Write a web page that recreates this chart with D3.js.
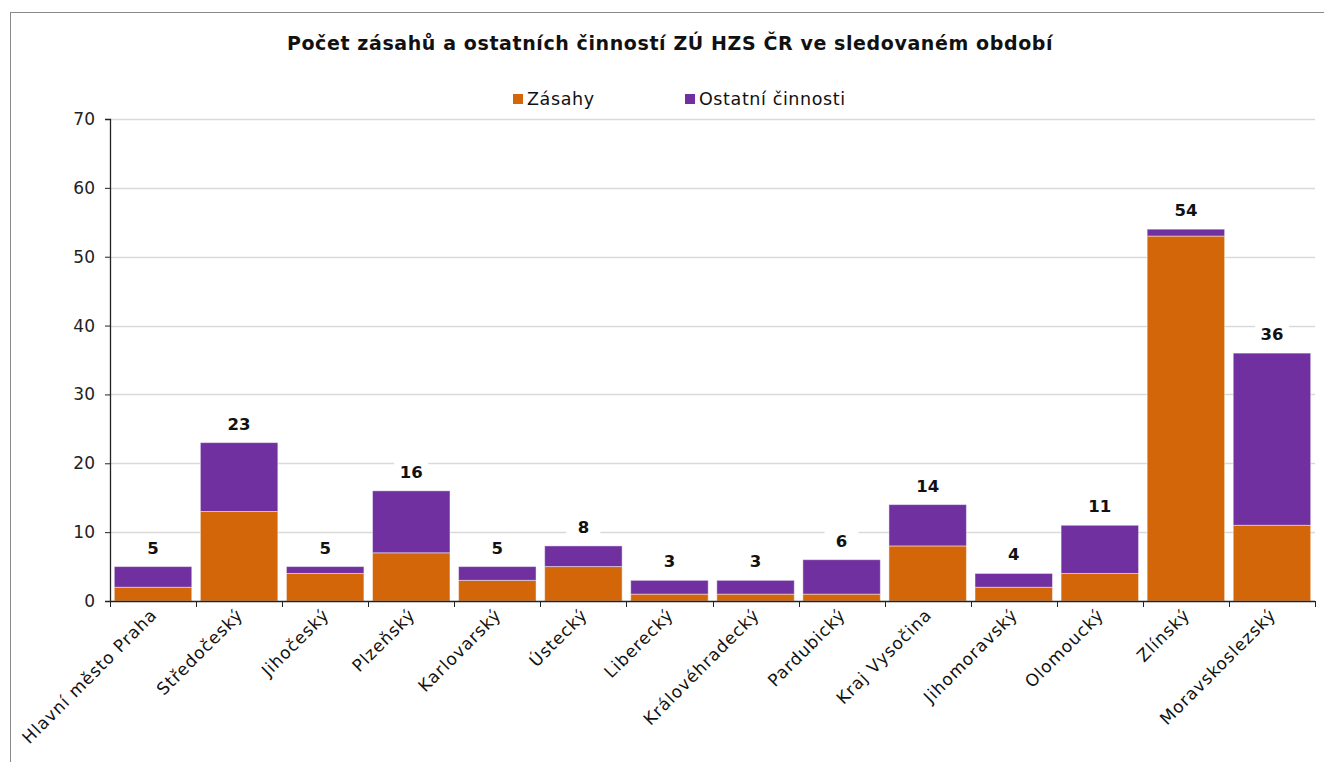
<!DOCTYPE html>
<html><head><meta charset="utf-8">
<script src="https://cdn.jsdelivr.net/npm/d3@7"></script>
<style>
body{margin:0;background:#fff;}
svg text{font-family:"DejaVu Sans",sans-serif;}
</style></head>
<body><svg id="c" width="1324" height="762"></svg>
<script>
const categories = ["Hlavní město Praha","Středočeský","Jihočeský","Plzeňský","Karlovarský","Ústecký","Liberecký","Královéhradecký","Pardubický","Kraj Vysočina","Jihomoravský","Olomoucký","Zlínský","Moravskoslezský"];
const zasahy =   [2,13,4,7,3,5,1,1,1,8,2,4,53,11];
const ostatni =  [3,10,1,9,2,3,2,2,5,6,2,7,1,25];
const seriesNames = ["Zásahy","Ostatní činnosti"];
const yTicks = [0,10,20,30,40,50,60,70];
const colors = ["#D4660A","#7030A0"];

const svg = d3.select("#c");
// outer border
svg.append("rect").attr("x",10.5).attr("y",12.5).attr("width",1340).attr("height",800)
  .attr("fill","none").attr("stroke","#888").attr("stroke-width",1);

const m = {l:110, r:1315, t:119, b:601};
const x = d3.scaleBand().domain(categories).range([m.l,m.r]).paddingInner(0.1).paddingOuter(0.05);
const y = d3.scaleLinear().domain([0,70]).range([m.b,m.t]);

// gridlines
svg.append("g").selectAll("line").data(yTicks.filter(d=>d>0)).join("line")
  .attr("x1",m.l).attr("x2",m.r).attr("y1",d=>Math.round(y(d))+0.5).attr("y2",d=>Math.round(y(d))+0.5)
  .attr("stroke","#D9D9D9").attr("stroke-width",1.3);

const data = categories.map((c,i)=>({c, a:zasahy[i], b:ostatni[i], t:zasahy[i]+ostatni[i]}));
const stack = d3.stack().keys(["a","b"])(data);

svg.append("g").selectAll("g").data(stack).join("g").attr("fill",(d,i)=>colors[i])
  .selectAll("rect").data(d=>d).join("rect")
  .attr("x",d=>x(d.data.c)).attr("width",x.bandwidth())
  .attr("y",d=>y(d[1])).attr("height",d=>y(d[0])-y(d[1]))
  .attr("stroke","rgba(255,255,255,0.45)").attr("stroke-width",1);

// axes
const yAxis = svg.append("g").attr("transform",`translate(${m.l},0)`)
  .call(d3.axisLeft(y).tickValues(yTicks).tickSize(5).tickPadding(10));
yAxis.select(".domain").attr("stroke","#222").attr("stroke-width",1.3);
yAxis.selectAll(".tick line").attr("stroke","#222");
yAxis.selectAll("text").attr("font-size",17).attr("fill","#222").style("font-family","DejaVu Sans");

// x axis: ticks at band boundaries
const xg = svg.append("g");
xg.append("line").attr("x1",m.l).attr("x2",m.r).attr("y1",m.b+0.5).attr("y2",m.b+0.5).attr("stroke","#222").attr("stroke-width",1.5);
const bounds = d3.range(categories.length+1).map(i=>m.l + (m.r-m.l)*i/categories.length);
xg.selectAll(".bt").data(bounds).join("line")
  .attr("x1",d=>Math.round(d)+0.5).attr("x2",d=>Math.round(d)+0.5).attr("y1",m.b).attr("y2",m.b+6)
  .attr("stroke","#222");
xg.selectAll(".lab").data(categories).join("text")
  .attr("transform",d=>`translate(${x(d)+x.bandwidth()/2+5},${m.b+15}) rotate(-45)`)
  .attr("text-anchor","end").attr("font-size",17).attr("letter-spacing",0.9).attr("fill","#111").text(d=>d);

// totals
const lg = svg.append("g").selectAll("g").data(data).join("g")
  .attr("transform",d=>`translate(${x(d.c)+x.bandwidth()/2},${y(d.t)-19})`);
lg.append("rect").attr("x",-17).attr("y",-12).attr("width",34).attr("height",24).attr("fill","#fff");
lg.append("text").attr("text-anchor","middle").attr("dy","0.36em").attr("font-size",16.5)
  .attr("font-weight","bold").attr("fill","#111").text(d=>d.t);

// title
svg.append("text").attr("x",670).attr("y",50).attr("text-anchor","middle").attr("font-size",19)
  .attr("letter-spacing",0.6).attr("font-weight","bold").attr("fill","#111")
  .text("Počet zásahů a ostatních činností ZÚ HZS ČR ve sledovaném období");

// legend
const legX = [513,685];
const leg = svg.append("g").selectAll("g").data(seriesNames).join("g")
  .attr("transform",(d,i)=>`translate(${legX[i]},99)`);
leg.append("rect").attr("x",0).attr("y",-5).attr("width",10).attr("height",10).attr("fill",(d,i)=>colors[i]);
leg.append("text").attr("x",14).attr("dy","0.36em").attr("font-size",17.5).attr("letter-spacing",0.6).attr("fill","#111").text(d=>d);
</script></body></html>
